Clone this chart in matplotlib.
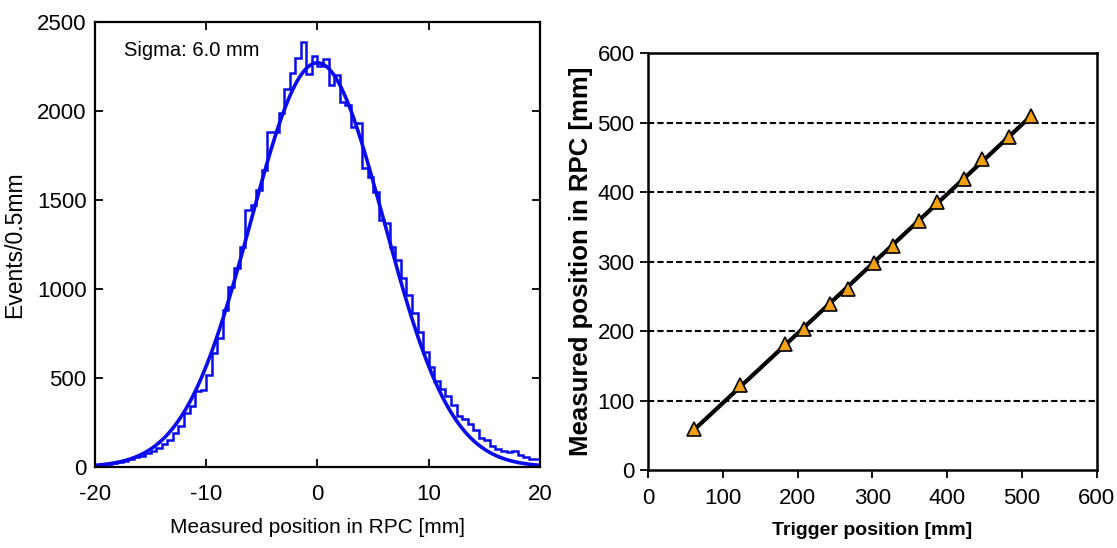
import numpy as np
import matplotlib.pyplot as plt

plt.rcParams['font.family'] = ['Liberation Sans', 'DejaVu Sans']
plt.rcParams['axes.unicode_minus'] = False

# left panel: histogram of measured position, 0.5 mm bins from -20 to 20
bin_edges = np.arange(-20, 20.01, 0.5)
counts = [8, 12, 15, 22, 26, 34, 45, 55, 62, 78,
          92, 108, 128, 150, 188, 228, 300, 340, 425, 433,
          517, 640, 723, 882, 1013, 1116, 1238, 1444, 1472, 1556,
          1669, 1880, 1884, 1990, 2125, 2212, 2296, 2385, 2210, 2310,
          2255, 2290, 2146, 2202, 2052, 2034, 1912, 1931, 1678, 1631,
          1547, 1388, 1369, 1238, 1163, 1060, 966, 863, 760, 648,
          564, 480, 435, 400, 345, 285, 270, 240, 205, 165,
          150, 115, 100, 88, 85, 92, 65, 55, 42, 42]
fit_amp = 2270
fit_mean = 0.0
fit_sigma = 6.0

# right panel: trigger position vs measured position
trigger = [62, 123, 183, 208, 243, 267, 302, 327, 362, 387, 422, 446, 483, 512]
measured = [59, 122, 181, 203, 239, 261, 298, 322, 359, 386, 419, 447, 479, 510]

fig = plt.figure(figsize=(11.17, 5.48), dpi=100)

# ---- left
ax1 = fig.add_axes([0.085, 0.148, 0.3984, 0.812])
ax1.stairs(counts, bin_edges, color='#0a0aee', lw=1.8)
xf = np.linspace(-20, 20, 400)
ax1.plot(xf, fit_amp * np.exp(-0.5 * ((xf - fit_mean) / fit_sigma) ** 2), color='#0a0aee', lw=2.6)
ax1.set_xlim(-20, 20)
ax1.set_ylim(0, 2500)
ax1.set_xticks([-20, -10, 0, 10, 20])
ax1.set_yticks([0, 500, 1000, 1500, 2000, 2500])
ax1.tick_params(direction='in', top=True, right=True, length=6, width=1.3, labelsize=16)
ax1.tick_params(axis='x', pad=12)
ax1.tick_params(axis='y', pad=6)
for s in ax1.spines.values():
    s.set_linewidth(1.6)
ax1.set_xlabel('Measured position in RPC [mm]', fontsize=15, labelpad=10)
ax1.set_ylabel('Events/0.5mm', fontsize=16.5, labelpad=8)
ax1.text(-17.4, 2340, 'Sigma: 6.0 mm', fontsize=14.5, va='center')

# ---- right
ax2 = fig.add_axes([0.58, 0.142, 0.402, 0.761])
for g in [100, 200, 300, 400, 500]:
    ax2.axhline(g, color='black', ls=(0, (3, 1.5)), lw=1.5, zorder=1)
slope, icpt = np.polyfit(trigger, measured, 1)
xl = np.array([min(trigger), max(trigger)])
ax2.plot(xl, slope * xl + icpt, color='black', lw=3, zorder=2)
ax2.plot(trigger, measured, ls='none', marker='^', ms=10, mfc='#f0a010', mec='black', mew=1.2, zorder=3)
ax2.set_xlim(0, 600)
ax2.set_ylim(0, 600)
ax2.set_xticks(range(0, 601, 100))
ax2.set_yticks(range(0, 601, 100))
ax2.tick_params(direction='out', length=6, width=1.3, labelsize=16)
ax2.tick_params(axis='x', pad=7)
for s in ax2.spines.values():
    s.set_linewidth(1.8)
ax2.set_xlabel('Trigger position [mm]', fontsize=14, fontweight='bold', labelpad=9)
ax2.set_ylabel('Measured position in RPC [mm]', fontsize=18.5, fontweight='bold', labelpad=3)

fig.savefig('out.png', dpi=100)
